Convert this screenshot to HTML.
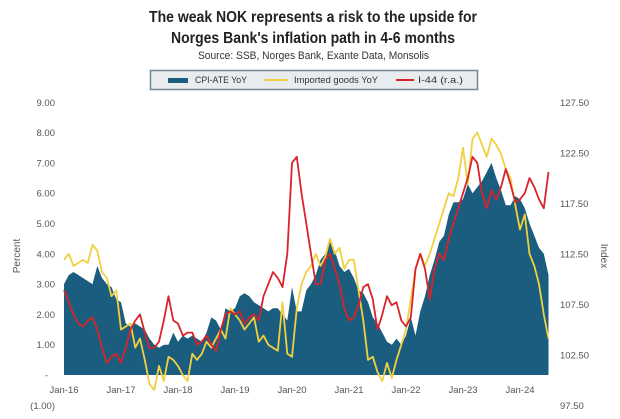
<!DOCTYPE html>
<html><head><meta charset="utf-8"><style>
body{margin:0;background:#fff;width:620px;height:414px;overflow:hidden;font-family:"Liberation Sans",sans-serif}
</style></head><body>
<svg id="s" width="620" height="414" xmlns="http://www.w3.org/2000/svg" font-family="Liberation Sans, sans-serif">
<text x="149" y="22" textLength="328" lengthAdjust="spacingAndGlyphs" font-size="15.5" font-weight="bold" fill="#222">The weak NOK represents a risk to the upside for</text>
<text x="171" y="43" textLength="284" lengthAdjust="spacingAndGlyphs" font-size="15.5" font-weight="bold" fill="#222">Norges Bank's inflation path in 4-6 months</text>
<text x="198" y="59" textLength="231" lengthAdjust="spacingAndGlyphs" font-size="11" fill="#333">Source: SSB, Norges Bank, Exante Data, Monsolis</text>
<rect x="150.5" y="70.5" width="327" height="19" fill="#e8ecef" stroke="#6f8796" stroke-width="1.5"/>
<rect x="168" y="78" width="20" height="5" fill="#1b5d7e"/>
<text x="195" y="83" textLength="52" lengthAdjust="spacingAndGlyphs" font-size="9" fill="#333">CPI-ATE YoY</text>
<line x1="264" y1="80" x2="288" y2="80" stroke="#f0d040" stroke-width="2"/>
<text x="294" y="83" textLength="84" lengthAdjust="spacingAndGlyphs" font-size="9" fill="#333">Imported goods YoY</text>
<line x1="396" y1="80" x2="414" y2="80" stroke="#d8232a" stroke-width="2"/>
<text x="418" y="83" textLength="45" lengthAdjust="spacingAndGlyphs" font-size="9" fill="#333">I-44 (r.a.)</text>
<g id="g"></g>
</svg>
<script>
const cpi=[3.0,3.3,3.4,3.3,3.2,3.1,3.0,3.6,3.2,3.0,2.9,2.5,2.4,1.7,1.6,1.7,1.6,1.5,1.2,1.0,0.9,1.0,1.0,1.4,1.1,1.3,1.2,1.3,1.2,1.1,1.4,1.9,1.8,1.5,2.2,2.1,2.2,2.6,2.7,2.6,2.4,2.3,2.2,2.1,2.2,2.2,2.0,1.8,2.9,2.1,2.1,2.8,3.0,3.3,3.8,4.0,4.4,4.1,3.6,3.4,3.5,3.2,2.8,2.7,2.4,1.9,1.7,1.4,1.1,1.0,1.2,1.0,1.3,1.9,1.3,2.1,2.6,3.3,3.8,4.4,4.6,5.3,5.7,5.7,5.8,6.3,6.0,6.2,6.4,6.7,7.0,6.5,6.1,5.6,5.6,5.9,5.8,5.5,5.0,4.6,4.2,4.0,3.3];
const yel=[3.8,4.0,3.6,3.7,3.8,3.7,4.3,4.1,3.4,3.2,2.6,2.8,1.5,1.6,1.7,0.9,1.2,0.5,-0.3,-0.5,0.3,-0.2,0.6,0.5,0.3,0.0,-0.2,0.7,0.5,0.7,1.1,0.9,1.2,1.5,1.2,2.2,2.0,1.8,1.5,1.7,1.9,1.1,1.3,1.0,0.9,0.8,2.4,0.7,0.6,2.2,3.0,3.4,3.6,4.0,3.6,3.9,4.5,4.0,4.2,3.5,3.8,3.8,2.8,1.8,0.5,0.6,0.1,-0.2,0.4,-0.1,0.5,1.0,1.5,2.5,3.5,4.0,3.6,4.0,4.5,5.0,5.5,6.0,5.9,6.5,7.5,6.3,7.8,8.0,7.6,7.2,7.8,7.6,7.3,6.8,6.5,5.6,4.8,5.3,4.0,3.6,3.0,2.0,1.2];
const red=[2.8,2.4,2.0,1.7,1.6,1.8,1.9,1.5,0.9,0.4,0.6,0.7,0.4,0.9,1.5,1.8,2.0,1.4,0.9,0.9,1.1,1.8,2.6,1.8,1.7,1.3,1.4,1.4,1.0,1.1,1.3,1.0,0.8,1.5,2.0,2.1,2.0,2.1,1.7,1.9,2.0,1.8,2.6,3.0,3.4,3.2,2.9,4.0,7.0,7.2,6.0,5.0,4.0,3.0,3.0,3.8,4.0,3.5,3.0,2.2,1.8,1.9,2.3,2.9,3.0,2.5,1.5,2.0,2.6,2.3,2.4,1.8,1.6,1.9,3.5,4.0,3.5,2.5,3.5,4.0,3.8,4.5,5.0,5.5,6.0,6.5,7.2,7.0,6.0,5.5,6.1,5.8,6.2,6.8,6.3,5.7,5.8,6.0,6.5,6.2,5.8,5.5,6.7];
const X=i=>64+i*4.75, Y=v=>375-v*30.3;
const pts=a=>a.map((v,i)=>X(i).toFixed(1)+","+Y(v).toFixed(1)).join(" ");
let h="";
h+=`<polygon points="${X(0)},375 ${pts(cpi)} ${X(cpi.length-1)},375" fill="#1b5d7e"/>`;
h+=`<polyline points="${pts(yel)}" fill="none" stroke="#f0d040" stroke-width="1.8" stroke-linejoin="round"/>`;
h+=`<polyline points="${pts(red)}" fill="none" stroke="#d8232a" stroke-width="1.8" stroke-linejoin="round"/>`;
const L=["(1.00)","-","1.00","2.00","3.00","4.00","5.00","6.00","7.00","8.00","9.00"];
const R=["97.50","","102.50","","107.50","","112.50","","117.50","","122.50","","127.50"];
for(let k=-1;k<=9;k++){h+=`<text x="${k==0?48:55}" y="${Y(k)+3.5}" text-anchor="end" font-size="9.5" fill="#555">${L[k+1]}</text>`;}
for(let k=0;k<=12;k+=2){const v=-1+k*10/12;h+=`<text x="560" y="${Y(v)+3.5}" font-size="9.5" fill="#555">${R[k]}</text>`;}
const yr=["Jan-16","Jan-17","Jan-18","Jan-19","Jan-20","Jan-21","Jan-22","Jan-23","Jan-24"];
yr.forEach((t,i)=>h+=`<text x="${X(i*12)}" y="393" text-anchor="middle" font-size="9.5" fill="#555">${t}</text>`);
h+=`<text transform="translate(20,256) rotate(-90)" text-anchor="middle" font-size="10" fill="#555">Percent</text>`;
h+=`<text transform="translate(601,256) rotate(90)" text-anchor="middle" font-size="10" fill="#555">Index</text>`;
document.getElementById("g").innerHTML=h;
</script>
</body></html>
